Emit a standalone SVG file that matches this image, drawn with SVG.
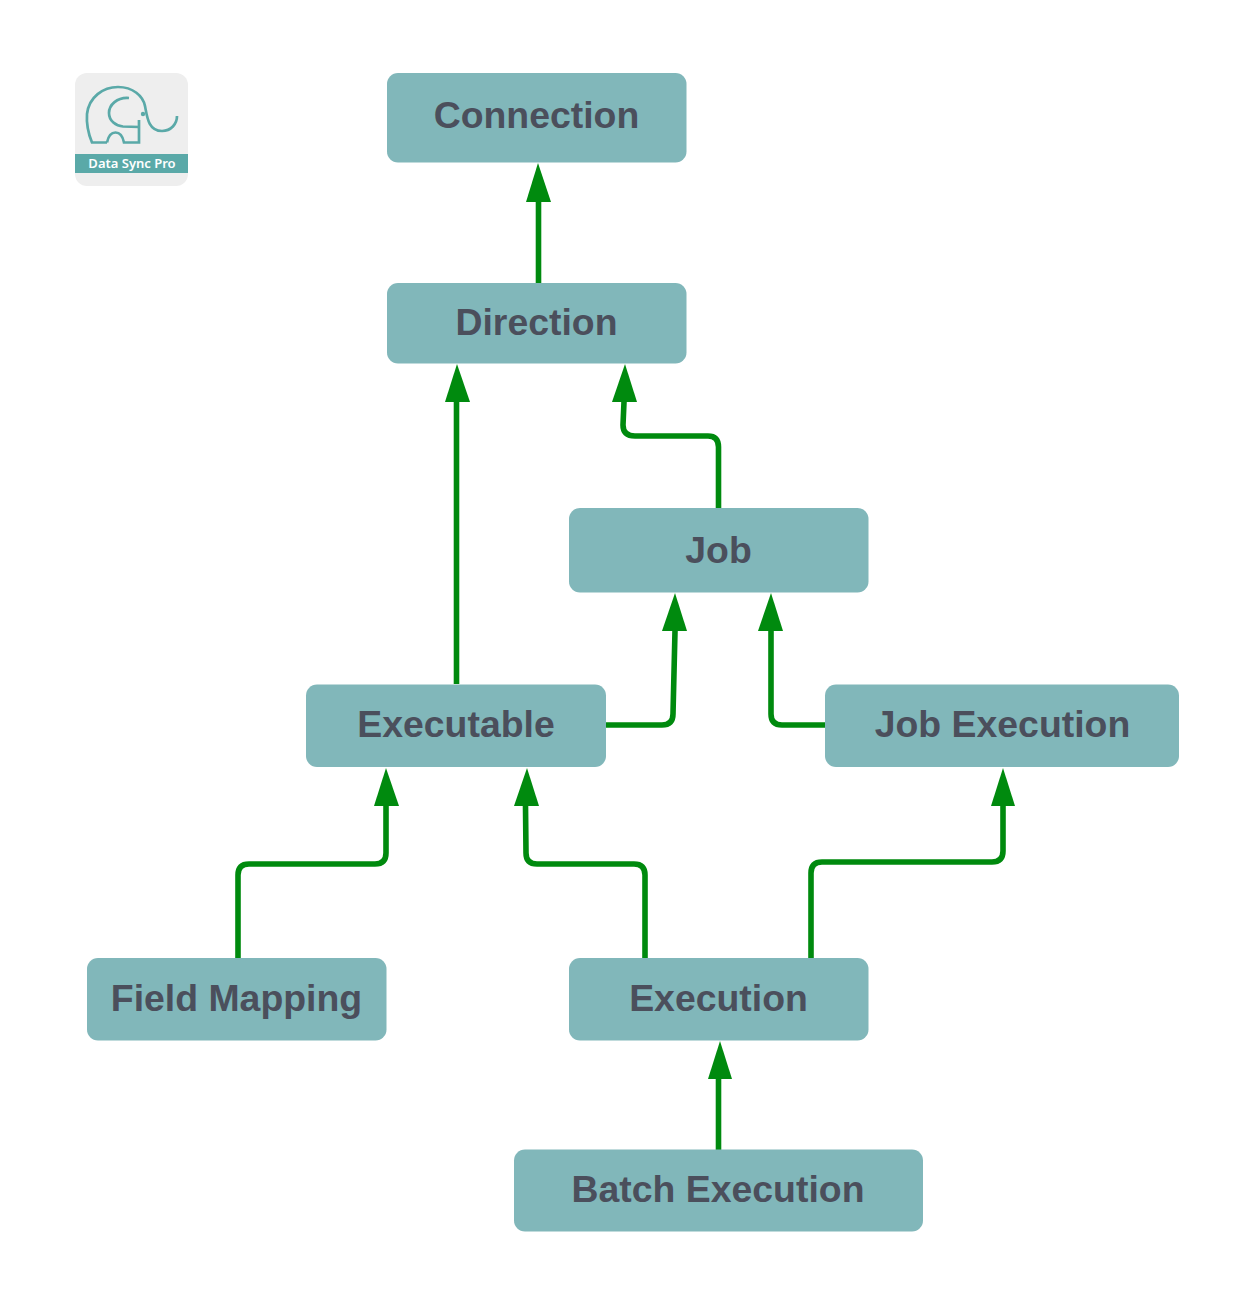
<svg xmlns="http://www.w3.org/2000/svg" width="1254" height="1309" viewBox="0 0 1254 1309">
<style>
.n{fill:#81b7ba}
.t{font:bold 37.4px "Liberation Sans",Arial,sans-serif;fill:#4b4f5c;text-anchor:middle}
.c{fill:none;stroke:#008a0e;stroke-width:5.6}
.h{fill:#008a0e}
.l{fill:none;stroke:#5aa9a8;stroke-width:2.7}
</style>
<rect width="1254" height="1309" fill="#fff"/>
<g id="logo">
<rect x="75" y="73" width="113" height="113" rx="12" fill="#eeeeee"/>
<rect x="75" y="154" width="113" height="19" fill="#5aa9a8"/>
<text x="132" y="168" font-family="Noto Sans,sans-serif" font-size="13" font-weight="600" fill="#fff" text-anchor="middle">Data Sync Pro</text>
<path class="l" d="M107 142.500H92Q86 128 87 114C89 97 103 87 118 87C133 87 143 96 145 106C147 116 148 131 162 131C171 131 177 124 177 116"/>
<path class="l" d="M107 142.500Q109 132.500 115.500 132.500Q122 132.500 124 142.500H139V120"/>
<path class="l" d="M129 98C117 97 109 105 109 113C109 121 116 126 123 126.500L139 127"/>
<circle cx="143" cy="114" r="2.200" fill="#5aa9a8"/>
</g>
<g id="connectors">
<path class="c" d="M538.500 284V200"/>
<path class="h" d="M538 163L551 202H526Z"/>
<path class="c" d="M456.500 684V402"/>
<path class="h" d="M457 364L470 402H445Z"/>
<path class="c" d="M718.500 509V447Q718.500 436 708 436H635Q623 436 623 425L624 402"/>
<path class="h" d="M625 364L637 402H612Z"/>
<path class="c" d="M606 725H662Q673 725 673 714L675 631"/>
<path class="h" d="M675 593L687 631H662Z"/>
<path class="c" d="M828 725H782Q771 725 771 714V631"/>
<path class="h" d="M771 593L783 631H758Z"/>
<path class="c" d="M238 958V875Q238 864 249 864H375Q386 864 386 853V806"/>
<path class="h" d="M386 768L399 806H374Z"/>
<path class="c" d="M645 958V875Q645 864 634 864H537Q526 864 526 853L525.500 806"/>
<path class="h" d="M527 768L539 806H514Z"/>
<path class="c" d="M811 958V873Q811 862 822 862H992Q1003 862 1003 851V806"/>
<path class="h" d="M1003 768L1015 806H991Z"/>
<path class="c" d="M718.500 1151V1079"/>
<path class="h" d="M720 1041L732 1079H708Z"/>
</g>
<g id="connection"><rect class="n" x="387" y="73" width="299.500" height="89.500" rx="11"/><text class="t" x="536.500" y="128">Connection</text></g>
<g id="direction"><rect class="n" x="387" y="283" width="299.500" height="80.500" rx="11"/><text class="t" x="536.500" y="335">Direction</text></g>
<g id="job"><rect class="n" x="569" y="508" width="299.500" height="84.500" rx="11"/><text class="t" x="718.500" y="563">Job</text></g>
<g id="executable"><rect class="n" x="306" y="684.500" width="300" height="82.500" rx="11"/><text class="t" x="456" y="737">Executable</text></g>
<g id="job-execution"><rect class="n" x="825" y="684.500" width="354" height="82.500" rx="11"/><text class="t" x="1002.500" y="737">Job Execution</text></g>
<g id="field-mapping"><rect class="n" x="87" y="958" width="299.500" height="82.500" rx="11"/><text class="t" x="236.500" y="1011">Field Mapping</text></g>
<g id="execution"><rect class="n" x="569" y="958" width="299.500" height="82.500" rx="11"/><text class="t" x="718.500" y="1011">Execution</text></g>
<g id="batch-execution"><rect class="n" x="514" y="1149.500" width="409" height="82" rx="11"/><text class="t" x="718" y="1202">Batch Execution</text></g>
</svg>
